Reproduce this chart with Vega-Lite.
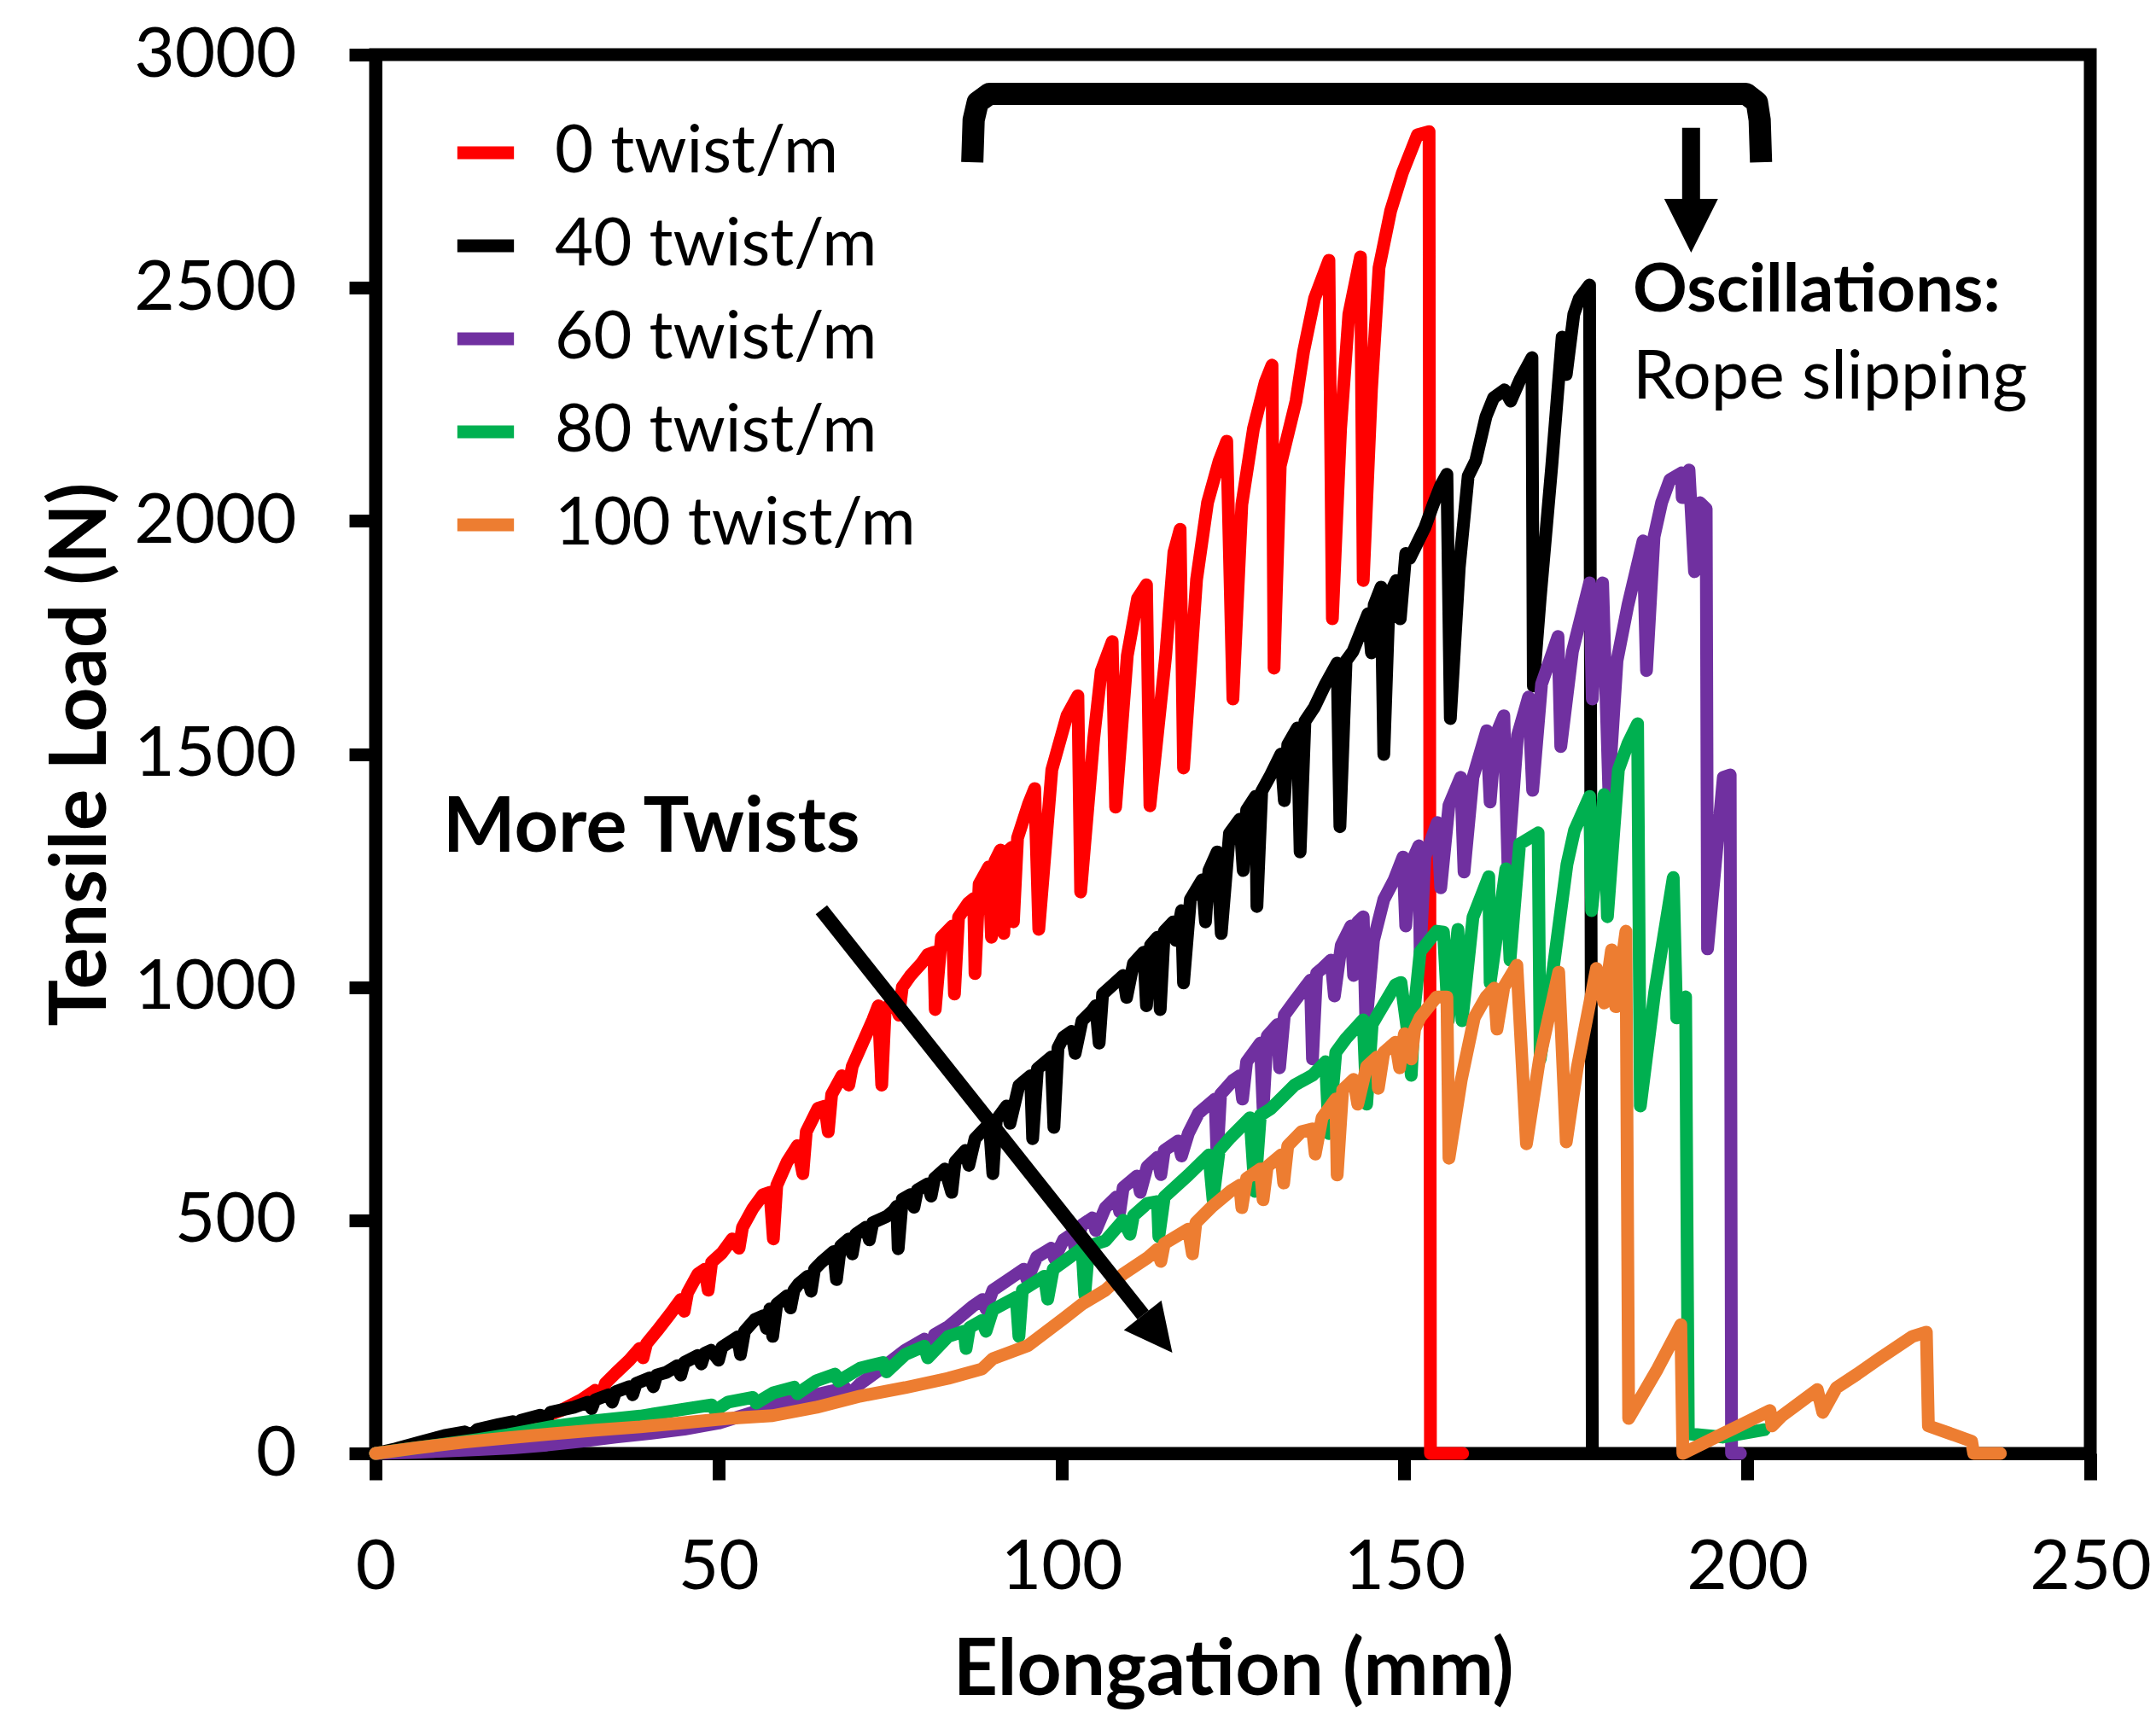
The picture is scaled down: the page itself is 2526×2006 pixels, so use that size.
{
  "$schema": "https://vega.github.io/schema/vega-lite/v6.json",
  "width": 2009,
  "height": 1639,
  "autosize": {"type": "none"},
  "padding": {"left": 440, "top": 64, "right": 77, "bottom": 303},
  "background": "white",
  "config": {
    "font": "Lato",
    "view": {"stroke": "black", "strokeWidth": 15},
    "axis": {
      "domainColor": "black", "domainWidth": 15,
      "tickColor": "black", "tickWidth": 15, "tickSize": 31,
      "labelFont": "Lato", "labelFontSize": 82, "labelColor": "black", "labelPadding": 62,
      "labelFlush": false, "labelOverlap": false, "labelLimit": 500,
      "titleFont": "Lato", "titleFontSize": 91, "titleFontWeight": "bold", "titleColor": "black",
      "grid": false
    }
  },
  "datasets": {
    "series": [
      {"s":"0 twist/m","x":0,"y":0},{"s":"0 twist/m","x":3,"y":5},{"s":"0 twist/m","x":6,"y":12},{"s":"0 twist/m","x":9,"y":20},{"s":"0 twist/m","x":12,"y":28},{"s":"0 twist/m","x":15,"y":38},{"s":"0 twist/m","x":18,"y":48},{"s":"0 twist/m","x":21,"y":60},{"s":"0 twist/m","x":24,"y":75},{"s":"0 twist/m","x":27,"y":92},{"s":"0 twist/m","x":30,"y":115},{"s":"0 twist/m","x":32,"y":135},{"s":"0 twist/m","x":33,"y":125},{"s":"0 twist/m","x":33.5,"y":150},{"s":"0 twist/m","x":35,"y":172},{"s":"0 twist/m","x":37,"y":200},{"s":"0 twist/m","x":38.5,"y":225},{"s":"0 twist/m","x":39,"y":205},{"s":"0 twist/m","x":39.5,"y":235},{"s":"0 twist/m","x":41,"y":262},{"s":"0 twist/m","x":43,"y":300},{"s":"0 twist/m","x":44.5,"y":330},{"s":"0 twist/m","x":45,"y":305},{"s":"0 twist/m","x":45.5,"y":345},{"s":"0 twist/m","x":47,"y":385},{"s":"0 twist/m","x":48,"y":395},{"s":"0 twist/m","x":48.5,"y":350},{"s":"0 twist/m","x":49,"y":410},{"s":"0 twist/m","x":50.5,"y":430},{"s":"0 twist/m","x":52,"y":460},{"s":"0 twist/m","x":53,"y":440},{"s":"0 twist/m","x":53.5,"y":485},{"s":"0 twist/m","x":55,"y":525},{"s":"0 twist/m","x":56.5,"y":555},{"s":"0 twist/m","x":57.5,"y":560},{"s":"0 twist/m","x":58,"y":460},{"s":"0 twist/m","x":58.5,"y":575},{"s":"0 twist/m","x":60,"y":625},{"s":"0 twist/m","x":61.5,"y":660},{"s":"0 twist/m","x":62.3,"y":600},{"s":"0 twist/m","x":62.8,"y":690},{"s":"0 twist/m","x":64.5,"y":740},{"s":"0 twist/m","x":65.5,"y":745},{"s":"0 twist/m","x":66,"y":690},{"s":"0 twist/m","x":66.5,"y":770},{"s":"0 twist/m","x":68,"y":810},{"s":"0 twist/m","x":69,"y":790},{"s":"0 twist/m","x":69.5,"y":830},{"s":"0 twist/m","x":71,"y":880},{"s":"0 twist/m","x":72.5,"y":930},{"s":"0 twist/m","x":73.3,"y":960},{"s":"0 twist/m","x":73.8,"y":790},{"s":"0 twist/m","x":74.3,"y":950},{"s":"0 twist/m","x":75.5,"y":975},{"s":"0 twist/m","x":76.3,"y":940},{"s":"0 twist/m","x":76.8,"y":1000},{"s":"0 twist/m","x":78,"y":1025},{"s":"0 twist/m","x":79.6,"y":1051},{"s":"0 twist/m","x":80.5,"y":1070},{"s":"0 twist/m","x":81.4,"y":1075},{"s":"0 twist/m","x":81.6,"y":952},{"s":"0 twist/m","x":82.5,"y":1107},{"s":"0 twist/m","x":84.1,"y":1131},{"s":"0 twist/m","x":84.4,"y":985},{"s":"0 twist/m","x":85,"y":1150},{"s":"0 twist/m","x":86.4,"y":1180},{"s":"0 twist/m","x":87.2,"y":1190},{"s":"0 twist/m","x":87.4,"y":1029},{"s":"0 twist/m","x":88,"y":1221},{"s":"0 twist/m","x":89.4,"y":1258},{"s":"0 twist/m","x":89.8,"y":1107},{"s":"0 twist/m","x":90.3,"y":1270},{"s":"0 twist/m","x":91.1,"y":1294},{"s":"0 twist/m","x":91.6,"y":1115},{"s":"0 twist/m","x":92,"y":1290},{"s":"0 twist/m","x":92.8,"y":1300},{"s":"0 twist/m","x":93,"y":1140},{"s":"0 twist/m","x":93.6,"y":1320},{"s":"0 twist/m","x":95.2,"y":1393},{"s":"0 twist/m","x":96.1,"y":1426},{"s":"0 twist/m","x":96.7,"y":1124},{"s":"0 twist/m","x":98.6,"y":1466},{"s":"0 twist/m","x":100.8,"y":1582},{"s":"0 twist/m","x":102.4,"y":1625},{"s":"0 twist/m","x":102.8,"y":1204},{"s":"0 twist/m","x":104.7,"y":1532},{"s":"0 twist/m","x":105.8,"y":1678},{"s":"0 twist/m","x":107.4,"y":1741},{"s":"0 twist/m","x":107.9,"y":1386},{"s":"0 twist/m","x":109.6,"y":1711},{"s":"0 twist/m","x":111.1,"y":1834},{"s":"0 twist/m","x":112.4,"y":1863},{"s":"0 twist/m","x":112.9,"y":1389},{"s":"0 twist/m","x":115.2,"y":1711},{"s":"0 twist/m","x":116.4,"y":1933},{"s":"0 twist/m","x":117.3,"y":1982},{"s":"0 twist/m","x":117.8,"y":1470},{"s":"0 twist/m","x":119.7,"y":1874},{"s":"0 twist/m","x":121.3,"y":2039},{"s":"0 twist/m","x":123,"y":2129},{"s":"0 twist/m","x":124.1,"y":2171},{"s":"0 twist/m","x":125,"y":1618},{"s":"0 twist/m","x":126.3,"y":2035},{"s":"0 twist/m","x":128,"y":2198},{"s":"0 twist/m","x":129.7,"y":2297},{"s":"0 twist/m","x":130.7,"y":2334},{"s":"0 twist/m","x":131,"y":1684},{"s":"0 twist/m","x":131.9,"y":2118},{"s":"0 twist/m","x":134.2,"y":2257},{"s":"0 twist/m","x":135.3,"y":2363},{"s":"0 twist/m","x":136.9,"y":2477},{"s":"0 twist/m","x":139,"y":2559},{"s":"0 twist/m","x":139.5,"y":1790},{"s":"0 twist/m","x":140.7,"y":2198},{"s":"0 twist/m","x":141.9,"y":2443},{"s":"0 twist/m","x":143.6,"y":2566},{"s":"0 twist/m","x":144,"y":1872},{"s":"0 twist/m","x":145.2,"y":2281},{"s":"0 twist/m","x":146.3,"y":2543},{"s":"0 twist/m","x":148,"y":2665},{"s":"0 twist/m","x":149.7,"y":2746},{"s":"0 twist/m","x":151.9,"y":2828},{"s":"0 twist/m","x":153.6,"y":2835},{"s":"0 twist/m","x":153.8,"y":0},{"s":"0 twist/m","x":158.5,"y":0},

      {"s":"40 twist/m","x":0,"y":0},{"s":"40 twist/m","x":3,"y":10},{"s":"40 twist/m","x":6.4,"y":24},{"s":"40 twist/m","x":10,"y":38},{"s":"40 twist/m","x":13,"y":46},{"s":"40 twist/m","x":14,"y":40},{"s":"40 twist/m","x":14.8,"y":51},{"s":"40 twist/m","x":18,"y":62},{"s":"40 twist/m","x":20,"y":68},{"s":"40 twist/m","x":20.5,"y":60},{"s":"40 twist/m","x":21.2,"y":71},{"s":"40 twist/m","x":24,"y":82},{"s":"40 twist/m","x":25,"y":76},{"s":"40 twist/m","x":25.5,"y":88},{"s":"40 twist/m","x":28.9,"y":99},{"s":"40 twist/m","x":31,"y":110},{"s":"40 twist/m","x":31.5,"y":96},{"s":"40 twist/m","x":32,"y":115},{"s":"40 twist/m","x":34,"y":126},{"s":"40 twist/m","x":34.5,"y":110},{"s":"40 twist/m","x":35,"y":132},{"s":"40 twist/m","x":37,"y":143},{"s":"40 twist/m","x":37.5,"y":126},{"s":"40 twist/m","x":38,"y":150},{"s":"40 twist/m","x":40,"y":162},{"s":"40 twist/m","x":40.5,"y":143},{"s":"40 twist/m","x":41,"y":168},{"s":"40 twist/m","x":42.4,"y":174},{"s":"40 twist/m","x":44,"y":188},{"s":"40 twist/m","x":44.5,"y":168},{"s":"40 twist/m","x":45,"y":195},{"s":"40 twist/m","x":47,"y":210},{"s":"40 twist/m","x":47.5,"y":192},{"s":"40 twist/m","x":48,"y":215},{"s":"40 twist/m","x":48.9,"y":221},{"s":"40 twist/m","x":50,"y":200},{"s":"40 twist/m","x":50.5,"y":228},{"s":"40 twist/m","x":52.8,"y":250},{"s":"40 twist/m","x":53.2,"y":212},{"s":"40 twist/m","x":53.8,"y":262},{"s":"40 twist/m","x":55.3,"y":287},{"s":"40 twist/m","x":56.5,"y":295},{"s":"40 twist/m","x":57,"y":268},{"s":"40 twist/m","x":57.5,"y":310},{"s":"40 twist/m","x":57.9,"y":251},{"s":"40 twist/m","x":58.5,"y":320},{"s":"40 twist/m","x":60,"y":338},{"s":"40 twist/m","x":60.5,"y":312},{"s":"40 twist/m","x":61,"y":350},{"s":"40 twist/m","x":61.7,"y":364},{"s":"40 twist/m","x":63,"y":380},{"s":"40 twist/m","x":63.5,"y":348},{"s":"40 twist/m","x":64,"y":395},{"s":"40 twist/m","x":65,"y":410},{"s":"40 twist/m","x":66.8,"y":433},{"s":"40 twist/m","x":67.2,"y":373},{"s":"40 twist/m","x":67.8,"y":445},{"s":"40 twist/m","x":69,"y":460},{"s":"40 twist/m","x":69.5,"y":428},{"s":"40 twist/m","x":70,"y":470},{"s":"40 twist/m","x":71.5,"y":485},{"s":"40 twist/m","x":72,"y":458},{"s":"40 twist/m","x":72.5,"y":495},{"s":"40 twist/m","x":74.5,"y":508},{"s":"40 twist/m","x":75.5,"y":520},{"s":"40 twist/m","x":76,"y":530},{"s":"40 twist/m","x":76.2,"y":439},{"s":"40 twist/m","x":76.8,"y":545},{"s":"40 twist/m","x":78,"y":555},{"s":"40 twist/m","x":78.5,"y":528},{"s":"40 twist/m","x":79,"y":565},{"s":"40 twist/m","x":80.5,"y":578},{"s":"40 twist/m","x":81,"y":552},{"s":"40 twist/m","x":81.5,"y":590},{"s":"40 twist/m","x":83,"y":610},{"s":"40 twist/m","x":84,"y":560},{"s":"40 twist/m","x":84.5,"y":625},{"s":"40 twist/m","x":86,"y":650},{"s":"40 twist/m","x":86.5,"y":618},{"s":"40 twist/m","x":87.4,"y":675},{"s":"40 twist/m","x":89,"y":700},{"s":"40 twist/m","x":89.5,"y":705},{"s":"40 twist/m","x":90,"y":600},{"s":"40 twist/m","x":90.5,"y":715},{"s":"40 twist/m","x":92,"y":745},{"s":"40 twist/m","x":92.5,"y":708},{"s":"40 twist/m","x":93.8,"y":789},{"s":"40 twist/m","x":95.5,"y":810},{"s":"40 twist/m","x":95.8,"y":675},{"s":"40 twist/m","x":96.5,"y":825},{"s":"40 twist/m","x":98.5,"y":850},{"s":"40 twist/m","x":98.9,"y":699},{"s":"40 twist/m","x":99.5,"y":870},{"s":"40 twist/m","x":100.3,"y":893},{"s":"40 twist/m","x":101.5,"y":905},{"s":"40 twist/m","x":102,"y":858},{"s":"40 twist/m","x":103,"y":928},{"s":"40 twist/m","x":104.5,"y":950},{"s":"40 twist/m","x":105,"y":960},{"s":"40 twist/m","x":105.5,"y":880},{"s":"40 twist/m","x":106,"y":985},{"s":"40 twist/m","x":107.8,"y":1009},{"s":"40 twist/m","x":109,"y":1025},{"s":"40 twist/m","x":109.5,"y":978},{"s":"40 twist/m","x":110.5,"y":1051},{"s":"40 twist/m","x":112,"y":1075},{"s":"40 twist/m","x":112.4,"y":960},{"s":"40 twist/m","x":113,"y":1090},{"s":"40 twist/m","x":114,"y":1107},{"s":"40 twist/m","x":114.4,"y":952},{"s":"40 twist/m","x":115,"y":1120},{"s":"40 twist/m","x":116.3,"y":1140},{"s":"40 twist/m","x":116.7,"y":1100},{"s":"40 twist/m","x":117.5,"y":1164},{"s":"40 twist/m","x":117.8,"y":1009},{"s":"40 twist/m","x":118.8,"y":1188},{"s":"40 twist/m","x":120.5,"y":1230},{"s":"40 twist/m","x":121,"y":1140},{"s":"40 twist/m","x":121.5,"y":1250},{"s":"40 twist/m","x":122.7,"y":1290},{"s":"40 twist/m","x":123.3,"y":1115},{"s":"40 twist/m","x":124.5,"y":1330},{"s":"40 twist/m","x":126,"y":1360},{"s":"40 twist/m","x":126.5,"y":1250},{"s":"40 twist/m","x":127,"y":1380},{"s":"40 twist/m","x":128.3,"y":1409},{"s":"40 twist/m","x":128.5,"y":1173},{"s":"40 twist/m","x":129.2,"y":1420},{"s":"40 twist/m","x":130.5,"y":1455},{"s":"40 twist/m","x":132,"y":1500},{"s":"40 twist/m","x":132.5,"y":1400},{"s":"40 twist/m","x":133,"y":1520},{"s":"40 twist/m","x":134.4,"y":1556},{"s":"40 twist/m","x":134.8,"y":1290},{"s":"40 twist/m","x":135.5,"y":1570},{"s":"40 twist/m","x":136.9,"y":1601},{"s":"40 twist/m","x":138.5,"y":1650},{"s":"40 twist/m","x":140.2,"y":1695},{"s":"40 twist/m","x":140.6,"y":1344},{"s":"40 twist/m","x":141.5,"y":1700},{"s":"40 twist/m","x":142.5,"y":1720},{"s":"40 twist/m","x":144.7,"y":1801},{"s":"40 twist/m","x":145.2,"y":1717},{"s":"40 twist/m","x":145.6,"y":1820},{"s":"40 twist/m","x":146.6,"y":1858},{"s":"40 twist/m","x":147,"y":1499},{"s":"40 twist/m","x":147.8,"y":1840},{"s":"40 twist/m","x":148.8,"y":1872},{"s":"40 twist/m","x":149.4,"y":1790},{"s":"40 twist/m","x":150.2,"y":1930},{"s":"40 twist/m","x":150.8,"y":1920},{"s":"40 twist/m","x":153,"y":1986},{"s":"40 twist/m","x":154.2,"y":2035},{"s":"40 twist/m","x":155.3,"y":2076},{"s":"40 twist/m","x":156.2,"y":2100},{"s":"40 twist/m","x":156.7,"y":1576},{"s":"40 twist/m","x":158,"y":1900},{"s":"40 twist/m","x":159.3,"y":2096},{"s":"40 twist/m","x":160.4,"y":2129},{"s":"40 twist/m","x":161.9,"y":2224},{"s":"40 twist/m","x":163,"y":2264},{"s":"40 twist/m","x":164.6,"y":2281},{"s":"40 twist/m","x":165.5,"y":2257},{"s":"40 twist/m","x":166.9,"y":2304},{"s":"40 twist/m","x":168.6,"y":2350},{"s":"40 twist/m","x":168.8,"y":1646},{"s":"40 twist/m","x":169.8,"y":1834},{"s":"40 twist/m","x":171.5,"y":2120},{"s":"40 twist/m","x":173,"y":2394},{"s":"40 twist/m","x":173.6,"y":2314},{"s":"40 twist/m","x":174.7,"y":2443},{"s":"40 twist/m","x":175.5,"y":2477},{"s":"40 twist/m","x":177,"y":2506},{"s":"40 twist/m","x":177.4,"y":0},

      {"s":"60 twist/m","x":0,"y":0},{"s":"60 twist/m","x":5,"y":2},{"s":"60 twist/m","x":10,"y":5},{"s":"60 twist/m","x":15,"y":8},{"s":"60 twist/m","x":20,"y":12},{"s":"60 twist/m","x":25,"y":18},{"s":"60 twist/m","x":30,"y":26},{"s":"60 twist/m","x":35,"y":35},{"s":"60 twist/m","x":40,"y":43},{"s":"60 twist/m","x":45,"y":52},{"s":"60 twist/m","x":50,"y":65},{"s":"60 twist/m","x":55,"y":88},{"s":"60 twist/m","x":58,"y":105},{"s":"60 twist/m","x":62,"y":118},{"s":"60 twist/m","x":66,"y":132},{"s":"60 twist/m","x":68.5,"y":140},{"s":"60 twist/m","x":69,"y":125},{"s":"60 twist/m","x":70.7,"y":150},{"s":"60 twist/m","x":74,"y":185},{"s":"60 twist/m","x":77.2,"y":221},{"s":"60 twist/m","x":80,"y":245},{"s":"60 twist/m","x":81,"y":230},{"s":"60 twist/m","x":81.5,"y":255},{"s":"60 twist/m","x":83.5,"y":272},{"s":"60 twist/m","x":87,"y":315},{"s":"60 twist/m","x":88.5,"y":330},{"s":"60 twist/m","x":89,"y":310},{"s":"60 twist/m","x":90,"y":350},{"s":"60 twist/m","x":93,"y":380},{"s":"60 twist/m","x":94.5,"y":395},{"s":"60 twist/m","x":95,"y":372},{"s":"60 twist/m","x":96.4,"y":421},{"s":"60 twist/m","x":98.5,"y":440},{"s":"60 twist/m","x":99,"y":418},{"s":"60 twist/m","x":100.3,"y":458},{"s":"60 twist/m","x":101.5,"y":470},{"s":"60 twist/m","x":102,"y":440},{"s":"60 twist/m","x":103,"y":490},{"s":"60 twist/m","x":104.5,"y":505},{"s":"60 twist/m","x":105,"y":478},{"s":"60 twist/m","x":106.4,"y":527},{"s":"60 twist/m","x":108,"y":550},{"s":"60 twist/m","x":108.5,"y":518},{"s":"60 twist/m","x":109,"y":570},{"s":"60 twist/m","x":111,"y":595},{"s":"60 twist/m","x":111.5,"y":560},{"s":"60 twist/m","x":112.5,"y":615},{"s":"60 twist/m","x":114,"y":635},{"s":"60 twist/m","x":114.5,"y":598},{"s":"60 twist/m","x":115,"y":650},{"s":"60 twist/m","x":117,"y":670},{"s":"60 twist/m","x":117.5,"y":638},{"s":"60 twist/m","x":118.5,"y":686},{"s":"60 twist/m","x":120,"y":730},{"s":"60 twist/m","x":122.4,"y":760},{"s":"60 twist/m","x":122.7,"y":633},{"s":"60 twist/m","x":123.2,"y":770},{"s":"60 twist/m","x":125,"y":800},{"s":"60 twist/m","x":126,"y":810},{"s":"60 twist/m","x":126.4,"y":760},{"s":"60 twist/m","x":127,"y":840},{"s":"60 twist/m","x":129,"y":880},{"s":"60 twist/m","x":129.4,"y":739},{"s":"60 twist/m","x":130,"y":895},{"s":"60 twist/m","x":131.5,"y":920},{"s":"60 twist/m","x":131.8,"y":827},{"s":"60 twist/m","x":132.5,"y":940},{"s":"60 twist/m","x":134,"y":970},{"s":"60 twist/m","x":136.3,"y":1015},{"s":"60 twist/m","x":136.6,"y":846},{"s":"60 twist/m","x":137.2,"y":1030},{"s":"60 twist/m","x":138.1,"y":1041},{"s":"60 twist/m","x":139.3,"y":1058},{"s":"60 twist/m","x":139.8,"y":981},{"s":"60 twist/m","x":140.8,"y":1090},{"s":"60 twist/m","x":142.2,"y":1131},{"s":"60 twist/m","x":142.6,"y":1025},{"s":"60 twist/m","x":143.2,"y":1140},{"s":"60 twist/m","x":144,"y":1151},{"s":"60 twist/m","x":144.4,"y":917},{"s":"60 twist/m","x":145.5,"y":1100},{"s":"60 twist/m","x":147,"y":1188},{"s":"60 twist/m","x":148.5,"y":1230},{"s":"60 twist/m","x":149.8,"y":1279},{"s":"60 twist/m","x":150.2,"y":1131},{"s":"60 twist/m","x":150.8,"y":1260},{"s":"60 twist/m","x":152.1,"y":1303},{"s":"60 twist/m","x":152.3,"y":1074},{"s":"60 twist/m","x":153,"y":1280},{"s":"60 twist/m","x":154.8,"y":1353},{"s":"60 twist/m","x":155.3,"y":1213},{"s":"60 twist/m","x":156.5,"y":1390},{"s":"60 twist/m","x":158.2,"y":1450},{"s":"60 twist/m","x":158.7,"y":1247},{"s":"60 twist/m","x":160,"y":1450},{"s":"60 twist/m","x":162,"y":1550},{"s":"60 twist/m","x":162.5,"y":1397},{"s":"60 twist/m","x":163.3,"y":1540},{"s":"60 twist/m","x":164.5,"y":1582},{"s":"60 twist/m","x":165.1,"y":1263},{"s":"60 twist/m","x":166.5,"y":1540},{"s":"60 twist/m","x":168.1,"y":1622},{"s":"60 twist/m","x":168.7,"y":1422},{"s":"60 twist/m","x":170,"y":1650},{"s":"60 twist/m","x":172.4,"y":1752},{"s":"60 twist/m","x":172.8,"y":1516},{"s":"60 twist/m","x":174.5,"y":1720},{"s":"60 twist/m","x":177,"y":1867},{"s":"60 twist/m","x":177.4,"y":1618},{"s":"60 twist/m","x":178,"y":1800},{"s":"60 twist/m","x":178.9,"y":1867},{"s":"60 twist/m","x":179.8,"y":1426},{"s":"60 twist/m","x":181,"y":1700},{"s":"60 twist/m","x":182.6,"y":1820},{"s":"60 twist/m","x":184.8,"y":1957},{"s":"60 twist/m","x":185.3,"y":1679},{"s":"60 twist/m","x":186.4,"y":1966},{"s":"60 twist/m","x":187.5,"y":2039},{"s":"60 twist/m","x":188.7,"y":2088},{"s":"60 twist/m","x":190.4,"y":2103},{"s":"60 twist/m","x":190.5,"y":2050},{"s":"60 twist/m","x":191.5,"y":2109},{"s":"60 twist/m","x":192.3,"y":1891},{"s":"60 twist/m","x":193.1,"y":2039},{"s":"60 twist/m","x":194,"y":2026},{"s":"60 twist/m","x":194.2,"y":1082},{"s":"60 twist/m","x":196.5,"y":1450},{"s":"60 twist/m","x":197.5,"y":1455},{"s":"60 twist/m","x":197.7,"y":0},{"s":"60 twist/m","x":199,"y":0},

      {"s":"80 twist/m","x":0,"y":0},{"s":"80 twist/m","x":5,"y":10},{"s":"80 twist/m","x":10,"y":20},{"s":"80 twist/m","x":15,"y":30},{"s":"80 twist/m","x":19.3,"y":40},{"s":"80 twist/m","x":25.8,"y":58},{"s":"80 twist/m","x":32,"y":70},{"s":"80 twist/m","x":38.6,"y":80},{"s":"80 twist/m","x":45,"y":95},{"s":"80 twist/m","x":49,"y":104},{"s":"80 twist/m","x":49.5,"y":92},{"s":"80 twist/m","x":51.4,"y":110},{"s":"80 twist/m","x":55,"y":120},{"s":"80 twist/m","x":55.5,"y":108},{"s":"80 twist/m","x":58,"y":130},{"s":"80 twist/m","x":61,"y":142},{"s":"80 twist/m","x":61.5,"y":128},{"s":"80 twist/m","x":64.3,"y":156},{"s":"80 twist/m","x":67,"y":170},{"s":"80 twist/m","x":67.5,"y":155},{"s":"80 twist/m","x":70.7,"y":183},{"s":"80 twist/m","x":74,"y":195},{"s":"80 twist/m","x":74.5,"y":175},{"s":"80 twist/m","x":77.2,"y":212},{"s":"80 twist/m","x":80,"y":230},{"s":"80 twist/m","x":80.5,"y":205},{"s":"80 twist/m","x":83.5,"y":251},{"s":"80 twist/m","x":85.8,"y":262},{"s":"80 twist/m","x":86.1,"y":225},{"s":"80 twist/m","x":86.6,"y":270},{"s":"80 twist/m","x":88.4,"y":285},{"s":"80 twist/m","x":89,"y":262},{"s":"80 twist/m","x":90,"y":308},{"s":"80 twist/m","x":93.4,"y":335},{"s":"80 twist/m","x":93.8,"y":251},{"s":"80 twist/m","x":94.3,"y":350},{"s":"80 twist/m","x":97.5,"y":380},{"s":"80 twist/m","x":98,"y":331},{"s":"80 twist/m","x":98.8,"y":395},{"s":"80 twist/m","x":100.4,"y":412},{"s":"80 twist/m","x":103,"y":440},{"s":"80 twist/m","x":103.4,"y":340},{"s":"80 twist/m","x":104,"y":445},{"s":"80 twist/m","x":106.4,"y":456},{"s":"80 twist/m","x":109,"y":500},{"s":"80 twist/m","x":110,"y":470},{"s":"80 twist/m","x":110.5,"y":510},{"s":"80 twist/m","x":112.5,"y":536},{"s":"80 twist/m","x":114,"y":540},{"s":"80 twist/m","x":114.2,"y":465},{"s":"80 twist/m","x":115,"y":550},{"s":"80 twist/m","x":118.5,"y":597},{"s":"80 twist/m","x":121.5,"y":640},{"s":"80 twist/m","x":122.1,"y":544},{"s":"80 twist/m","x":123,"y":650},{"s":"80 twist/m","x":124.6,"y":677},{"s":"80 twist/m","x":127.5,"y":720},{"s":"80 twist/m","x":128.2,"y":562},{"s":"80 twist/m","x":129,"y":725},{"s":"80 twist/m","x":130.5,"y":739},{"s":"80 twist/m","x":134,"y":790},{"s":"80 twist/m","x":136.6,"y":811},{"s":"80 twist/m","x":138.5,"y":840},{"s":"80 twist/m","x":139,"y":686},{"s":"80 twist/m","x":140,"y":860},{"s":"80 twist/m","x":141.5,"y":890},{"s":"80 twist/m","x":144,"y":930},{"s":"80 twist/m","x":144.5,"y":749},{"s":"80 twist/m","x":145.3,"y":920},{"s":"80 twist/m","x":146.2,"y":943},{"s":"80 twist/m","x":148.7,"y":1005},{"s":"80 twist/m","x":149.5,"y":1010},{"s":"80 twist/m","x":150.5,"y":900},{"s":"80 twist/m","x":151,"y":811},{"s":"80 twist/m","x":151.5,"y":960},{"s":"80 twist/m","x":152.3,"y":1076},{"s":"80 twist/m","x":154.7,"y":1120},{"s":"80 twist/m","x":155.7,"y":1118},{"s":"80 twist/m","x":156.4,"y":928},{"s":"80 twist/m","x":157.8,"y":1124},{"s":"80 twist/m","x":158.4,"y":928},{"s":"80 twist/m","x":160,"y":1150},{"s":"80 twist/m","x":162.3,"y":1237},{"s":"80 twist/m","x":162.5,"y":1009},{"s":"80 twist/m","x":164.8,"y":1254},{"s":"80 twist/m","x":165.4,"y":1058},{"s":"80 twist/m","x":166.8,"y":1307},{"s":"80 twist/m","x":169.5,"y":1331},{"s":"80 twist/m","x":169.8,"y":846},{"s":"80 twist/m","x":171.5,"y":1018},{"s":"80 twist/m","x":173.7,"y":1263},{"s":"80 twist/m","x":174.8,"y":1336},{"s":"80 twist/m","x":177,"y":1409},{"s":"80 twist/m","x":177.3,"y":1164},{"s":"80 twist/m","x":179.1,"y":1413},{"s":"80 twist/m","x":179.6,"y":1151},{"s":"80 twist/m","x":181.2,"y":1466},{"s":"80 twist/m","x":182.6,"y":1523},{"s":"80 twist/m","x":184,"y":1565},{"s":"80 twist/m","x":184.4,"y":745},{"s":"80 twist/m","x":186.5,"y":990},{"s":"80 twist/m","x":189.2,"y":1235},{"s":"80 twist/m","x":189.7,"y":934},{"s":"80 twist/m","x":191,"y":979},{"s":"80 twist/m","x":191.4,"y":42},{"s":"80 twist/m","x":196.4,"y":35},{"s":"80 twist/m","x":202.5,"y":51},

      {"s":"100 twist/m","x":0,"y":0},{"s":"100 twist/m","x":6,"y":12},{"s":"100 twist/m","x":12.8,"y":24},{"s":"100 twist/m","x":19,"y":33},{"s":"100 twist/m","x":25.8,"y":42},{"s":"100 twist/m","x":32,"y":50},{"s":"100 twist/m","x":38.6,"y":57},{"s":"100 twist/m","x":45,"y":66},{"s":"100 twist/m","x":51.4,"y":75},{"s":"100 twist/m","x":57.9,"y":81},{"s":"100 twist/m","x":64.3,"y":99},{"s":"100 twist/m","x":70.7,"y":123},{"s":"100 twist/m","x":77.2,"y":141},{"s":"100 twist/m","x":83.5,"y":161},{"s":"100 twist/m","x":88.4,"y":181},{"s":"100 twist/m","x":90,"y":203},{"s":"100 twist/m","x":95.1,"y":231},{"s":"100 twist/m","x":100.4,"y":290},{"s":"100 twist/m","x":103,"y":320},{"s":"100 twist/m","x":106.4,"y":350},{"s":"100 twist/m","x":109,"y":385},{"s":"100 twist/m","x":112.5,"y":419},{"s":"100 twist/m","x":114,"y":438},{"s":"100 twist/m","x":114.5,"y":412},{"s":"100 twist/m","x":115,"y":450},{"s":"100 twist/m","x":118.5,"y":481},{"s":"100 twist/m","x":119.1,"y":428},{"s":"100 twist/m","x":119.6,"y":495},{"s":"100 twist/m","x":122,"y":530},{"s":"100 twist/m","x":124.6,"y":562},{"s":"100 twist/m","x":126,"y":575},{"s":"100 twist/m","x":126.3,"y":527},{"s":"100 twist/m","x":127,"y":590},{"s":"100 twist/m","x":129,"y":610},{"s":"100 twist/m","x":129.4,"y":544},{"s":"100 twist/m","x":130,"y":615},{"s":"100 twist/m","x":132,"y":640},{"s":"100 twist/m","x":132.4,"y":580},{"s":"100 twist/m","x":133,"y":660},{"s":"100 twist/m","x":135,"y":690},{"s":"100 twist/m","x":136.6,"y":696},{"s":"100 twist/m","x":137,"y":642},{"s":"100 twist/m","x":138,"y":720},{"s":"100 twist/m","x":140,"y":760},{"s":"100 twist/m","x":140.2,"y":597},{"s":"100 twist/m","x":141,"y":780},{"s":"100 twist/m","x":142.6,"y":802},{"s":"100 twist/m","x":143.2,"y":749},{"s":"100 twist/m","x":144.5,"y":830},{"s":"100 twist/m","x":146,"y":850},{"s":"100 twist/m","x":146.2,"y":783},{"s":"100 twist/m","x":147,"y":860},{"s":"100 twist/m","x":148.7,"y":882},{"s":"100 twist/m","x":149.3,"y":827},{"s":"100 twist/m","x":150,"y":900},{"s":"100 twist/m","x":151,"y":846},{"s":"100 twist/m","x":151.5,"y":910},{"s":"100 twist/m","x":152.3,"y":935},{"s":"100 twist/m","x":154.7,"y":979},{"s":"100 twist/m","x":156.2,"y":979},{"s":"100 twist/m","x":156.5,"y":633},{"s":"100 twist/m","x":158.3,"y":802},{"s":"100 twist/m","x":160.2,"y":935},{"s":"100 twist/m","x":161.9,"y":979},{"s":"100 twist/m","x":163.1,"y":998},{"s":"100 twist/m","x":163.5,"y":910},{"s":"100 twist/m","x":164.5,"y":1000},{"s":"100 twist/m","x":166.4,"y":1047},{"s":"100 twist/m","x":167.8,"y":664},{"s":"100 twist/m","x":169.7,"y":846},{"s":"100 twist/m","x":172.5,"y":1032},{"s":"100 twist/m","x":173.6,"y":668},{"s":"100 twist/m","x":175.2,"y":827},{"s":"100 twist/m","x":178,"y":1040},{"s":"100 twist/m","x":179.1,"y":966},{"s":"100 twist/m","x":180.2,"y":1080},{"s":"100 twist/m","x":180.8,"y":958},{"s":"100 twist/m","x":182.3,"y":1120},{"s":"100 twist/m","x":182.7,"y":75},{"s":"100 twist/m","x":186.9,"y":181},{"s":"100 twist/m","x":190.3,"y":276},{"s":"100 twist/m","x":190.6,"y":0},{"s":"100 twist/m","x":196.4,"y":42},{"s":"100 twist/m","x":203.3,"y":92},{"s":"100 twist/m","x":203.6,"y":59},{"s":"100 twist/m","x":205,"y":80},{"s":"100 twist/m","x":210.2,"y":137},{"s":"100 twist/m","x":211,"y":88},{"s":"100 twist/m","x":213,"y":141},{"s":"100 twist/m","x":216,"y":170},{"s":"100 twist/m","x":219.6,"y":207},{"s":"100 twist/m","x":224.1,"y":251},{"s":"100 twist/m","x":226.1,"y":260},{"s":"100 twist/m","x":226.4,"y":59},{"s":"100 twist/m","x":229.7,"y":42},{"s":"100 twist/m","x":232.7,"y":26},{"s":"100 twist/m","x":233,"y":0},{"s":"100 twist/m","x":236.9,"y":0}
    ]
  },
  "encoding": {
    "x": {"field": "x", "type": "quantitative",
      "scale": {"domain": [0, 250], "nice": false, "zero": false},
      "axis": {"values": [0, 50, 100, 150, 200, 250], "format": "d", "title": "Elongation (mm)",
        "titleX": 1004.5, "titleY": 282, "titleBaseline": "alphabetic", "titleAlign": "center"}},
    "y": {"field": "y", "type": "quantitative",
      "scale": {"domain": [0, 3000], "nice": false, "zero": false},
      "axis": {"values": [0, 500, 1000, 1500, 2000, 2500, 3000], "format": "d", "title": "Tensile Load (N)",
        "titleX": -317, "titleY": 819.5, "titleBaseline": "alphabetic", "titleAlign": "center", "titleAngle": 270}}
  },
  "layer": [
    {
      "data": {"name": "series"},
      "transform": [{"filter": {"field": "s", "equal": "0 twist/m"}}],
      "mark": {"type": "line", "strokeWidth": 15, "strokeJoin": "round", "strokeCap": "round"},
      "encoding": {
        "color": {"field": "s", "type": "nominal",
          "scale": {"domain": ["0 twist/m", "40 twist/m", "60 twist/m", "80 twist/m", "100 twist/m"],
                    "range": ["#FF0000", "#000000", "#7030A0", "#00B050", "#ED7D31"]},
          "legend": {"orient": "none", "legendX": 88, "legendY": 74, "title": null, "padding": 0,
            "labelFont": "Lato", "labelFontSize": 78, "labelColor": "black", "labelLimit": 1000,
            "symbolType": "stroke", "symbolSize": 4400, "symbolStrokeWidth": 15,
            "rowPadding": 29, "labelOffset": 40}},
        "order": {"value": null}
      }
    },
    {
      "data": {"name": "series"},
      "transform": [{"filter": {"field": "s", "equal": "40 twist/m"}}],
      "mark": {"type": "line", "strokeWidth": 15, "strokeJoin": "round", "strokeCap": "round"},
      "encoding": {"color": {"field": "s", "type": "nominal"}, "order": {"value": null}}
    },
    {
      "data": {"name": "series"},
      "transform": [{"filter": {"field": "s", "equal": "60 twist/m"}}],
      "mark": {"type": "line", "strokeWidth": 15, "strokeJoin": "round", "strokeCap": "round"},
      "encoding": {"color": {"field": "s", "type": "nominal"}, "order": {"value": null}}
    },
    {
      "data": {"name": "series"},
      "transform": [{"filter": {"field": "s", "equal": "80 twist/m"}}],
      "mark": {"type": "line", "strokeWidth": 15, "strokeJoin": "round", "strokeCap": "round"},
      "encoding": {"color": {"field": "s", "type": "nominal"}, "order": {"value": null}}
    },
    {
      "data": {"name": "series"},
      "transform": [{"filter": {"field": "s", "equal": "100 twist/m"}}],
      "mark": {"type": "line", "strokeWidth": 15, "strokeJoin": "round", "strokeCap": "round"},
      "encoding": {"color": {"field": "s", "type": "nominal"}, "order": {"value": null}}
    },
    {
      "data": {"values": [{"x": 87.0, "y": 2769}, {"x": 87.2, "y": 2860}, {"x": 87.8, "y": 2898}, {"x": 89.5, "y": 2916}, {"x": 199.8, "y": 2916}, {"x": 201.4, "y": 2898}, {"x": 201.8, "y": 2860}, {"x": 202.0, "y": 2769}]},
      "mark": {"type": "line", "color": "black", "strokeWidth": 26, "strokeJoin": "round", "strokeCap": "butt"},
      "encoding": {"order": {"value": null}}
    },
    {
      "data": {"values": [{"x": 191.8, "y": 2843}, {"x": 191.8, "y": 2688}]},
      "mark": {"type": "line", "color": "black", "strokeWidth": 21, "strokeCap": "butt"},
      "encoding": {"order": {"value": null}}
    },
    {
      "data": {"values": [{"x": 191.8, "y": 2633}]},
      "mark": {"type": "point", "shape": "M-1,-1L1,-1L0,1Z", "size": 3969, "filled": true, "color": "black", "opacity": 1, "strokeWidth": 0}
    },
    {
      "data": {"values": [{"x": 65.0, "y": 1166}, {"x": 111.9, "y": 297}]},
      "mark": {"type": "line", "color": "black", "strokeWidth": 17, "strokeCap": "butt"},
      "encoding": {"order": {"value": null}}
    },
    {
      "data": {"values": [{"x": 114.0, "y": 256}]},
      "mark": {"type": "point", "shape": "M-1,-1L1,-1L0,1Z", "size": 3136, "angle": 321.6, "filled": true, "color": "black", "opacity": 1, "strokeWidth": 0}
    },
    {
      "data": {"values": [{"x": 9.8, "y": 1290, "t": "More Twists"}]},
      "mark": {"type": "text", "align": "left", "baseline": "alphabetic", "font": "Lato", "fontSize": 90, "fontWeight": "bold", "color": "black"},
      "encoding": {"text": {"field": "t"}}
    },
    {
      "data": {"values": [{"x": 183.3, "y": 2449, "t": "Oscillations:"}]},
      "mark": {"type": "text", "align": "left", "baseline": "alphabetic", "font": "Lato", "fontSize": 79, "fontWeight": "bold", "color": "black"},
      "encoding": {"text": {"field": "t"}}
    },
    {
      "data": {"values": [{"x": 183.3, "y": 2262, "t": "Rope slipping"}]},
      "mark": {"type": "text", "align": "left", "baseline": "alphabetic", "font": "Lato", "fontSize": 79, "color": "black"},
      "encoding": {"text": {"field": "t"}}
    }
  ]
}
